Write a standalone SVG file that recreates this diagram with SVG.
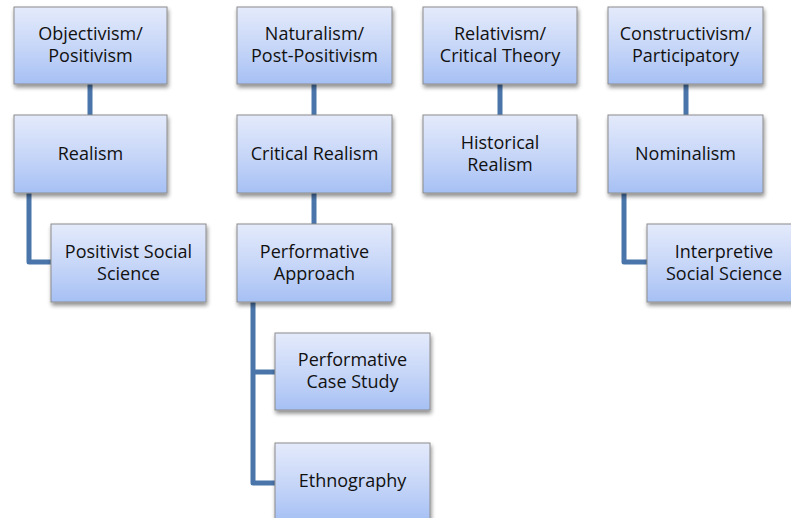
<svg xmlns="http://www.w3.org/2000/svg" width="791" height="518" viewBox="0 0 791 518">
  <defs>
    <linearGradient id="boxFill" x1="0" y1="0" x2="0" y2="1">
      <stop offset="0" stop-color="#e4eafb"/>
      <stop offset="0.5" stop-color="#c8d7f8"/>
      <stop offset="1" stop-color="#a6c0f4"/>
    </linearGradient>
    <filter id="shadow" x="-10%" y="-10%" width="130%" height="140%">
      <feGaussianBlur in="SourceAlpha" stdDeviation="2"/>
      <feOffset dx="1" dy="3" result="b"/>
      <feComponentTransfer><feFuncA type="linear" slope="0.45"/></feComponentTransfer>
      <feMerge><feMergeNode/><feMergeNode in="SourceGraphic"/></feMerge>
    </filter>
  </defs>
  <style>
    .box { fill: url(#boxFill); stroke: #8c8c8c; stroke-width: 1; filter: url(#shadow); }
    .lbl { font-family: "Open Sans", "Liberation Sans", sans-serif; font-size: 18px; fill: #111111; text-anchor: middle; }
    .conn { fill: none; stroke: #4a75aa; stroke-width: 5; stroke-linejoin: round; }
  </style>
  <rect width="791" height="518" fill="#ffffff"/>

  <g id="connectors">
    <path class="conn" d="M90 84 V115"/>
    <path class="conn" d="M29 193 V262 H51"/>
    <path class="conn" d="M314 84 V115"/>
    <path class="conn" d="M314 193 V224"/>
    <path class="conn" d="M253 302 V483 H275"/>
    <path class="conn" d="M253 372 H275"/>
    <path class="conn" d="M500 84 V115"/>
    <path class="conn" d="M686 84 V115"/>
    <path class="conn" d="M624 193 V262 H647"/>
  </g>

  <g id="objectivism">
    <rect class="box" x="14" y="7" width="153" height="77"/>
    <text class="lbl" x="90.5" y="40">Objectivism/</text>
    <text class="lbl" x="90.5" y="62">Positivism</text>
  </g>
  <g id="realism">
    <rect class="box" x="14" y="115" width="153" height="78"/>
    <text class="lbl" x="90.5" y="160">Realism</text>
  </g>
  <g id="positivist-social-science">
    <rect class="box" x="51" y="224" width="155" height="78"/>
    <text class="lbl" x="128.5" y="258">Positivist Social</text>
    <text class="lbl" x="128.5" y="280">Science</text>
  </g>

  <g id="naturalism">
    <rect class="box" x="237" y="7" width="155" height="77"/>
    <text class="lbl" x="314.5" y="40">Naturalism/</text>
    <text class="lbl" x="314.5" y="62">Post-Positivism</text>
  </g>
  <g id="critical-realism">
    <rect class="box" x="237" y="115" width="155" height="78"/>
    <text class="lbl" x="314.5" y="160">Critical Realism</text>
  </g>
  <g id="performative-approach">
    <rect class="box" x="237" y="224" width="155" height="78"/>
    <text class="lbl" x="314.5" y="258">Performative</text>
    <text class="lbl" x="314.5" y="280">Approach</text>
  </g>
  <g id="performative-case-study">
    <rect class="box" x="275" y="333" width="155" height="77"/>
    <text class="lbl" x="352.5" y="366">Performative</text>
    <text class="lbl" x="352.5" y="388">Case Study</text>
  </g>
  <g id="ethnography">
    <rect class="box" x="275" y="443" width="155" height="78"/>
    <text class="lbl" x="352.5" y="487">Ethnography</text>
  </g>

  <g id="relativism">
    <rect class="box" x="423" y="7" width="154" height="77"/>
    <text class="lbl" x="500" y="40">Relativism/</text>
    <text class="lbl" x="500" y="62">Critical Theory</text>
  </g>
  <g id="historical-realism">
    <rect class="box" x="423" y="115" width="154" height="78"/>
    <text class="lbl" x="500" y="149">Historical</text>
    <text class="lbl" x="500" y="171">Realism</text>
  </g>

  <g id="constructivism">
    <rect class="box" x="608" y="7" width="155" height="77"/>
    <text class="lbl" x="685.5" y="40">Constructivism/</text>
    <text class="lbl" x="685.5" y="62">Participatory</text>
  </g>
  <g id="nominalism">
    <rect class="box" x="608" y="115" width="155" height="78"/>
    <text class="lbl" x="685.5" y="160">Nominalism</text>
  </g>
  <g id="interpretive-social-science">
    <rect class="box" x="647" y="224" width="155" height="78"/>
    <text class="lbl" x="724" y="258">Interpretive</text>
    <text class="lbl" x="724" y="280">Social Science</text>
  </g>
</svg>
